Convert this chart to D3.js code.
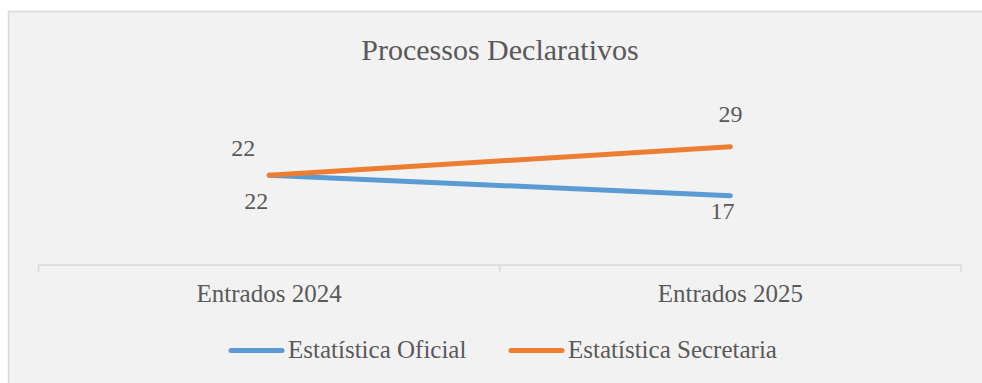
<!DOCTYPE html>
<html>
<head>
<meta charset="utf-8">
<script src="https://cdn.jsdelivr.net/npm/d3@7"></script>
<style>
  html, body { margin: 0; padding: 0; background: #fff; }
  svg text { font-family: "Liberation Serif", "DejaVu Serif", serif; fill: #595959; }
</style>
</head>
<body>
<svg id="chart" width="982" height="383"></svg>
<script>
const categories = ["Entrados 2024", "Entrados 2025"];
const seriesNames = ["Estatística Oficial", "Estatística Secretaria"];
const oficial = [22, 17];
const secretaria = [22, 29];
const title = "Processos Declarativos";

const colors = ["#5b9bd5", "#ed7d31"];
const series = [
    { name: seriesNames[0], values: oficial, color: colors[0] },
    { name: seriesNames[1], values: secretaria, color: colors[1] }
];

const svg = d3.select('#chart');

// chart background + border
svg.append('rect')
    .attr('x', 8.5).attr('y', 11.5)
    .attr('width', 990).attr('height', 400)
    .attr('fill', '#f2f2f2')
    .attr('stroke', '#d9d9d9')
    .attr('stroke-width', 1.5);

svg.append('text')
    .attr('x', 500).attr('y', 60)
    .attr('text-anchor', 'middle')
    .style('font-size', '30px')
    .text(title);

const x = d3.scaleBand().domain(categories).range([38.5, 961]);
const y = d3.scaleLinear().domain([0, 35]).range([265, 122.2]);
const cx = d => x(d) + x.bandwidth() / 2;

// category axis
const axisY = 265;
svg.append('line')
    .attr('x1', 38).attr('x2', 961)
    .attr('y1', axisY).attr('y2', axisY)
    .attr('stroke', '#d9d9d9').attr('stroke-width', 1.5);
[x.range()[0], ...categories.map(c => x(c) + x.bandwidth())].forEach(t => {
    svg.append('line')
        .attr('x1', t).attr('x2', t)
        .attr('y1', axisY).attr('y2', axisY + 7)
        .attr('stroke', '#d9d9d9').attr('stroke-width', 1.5);
});
svg.selectAll('.cat-label')
    .data(categories)
    .join('text')
    .attr('class', 'cat-label')
    .attr('x', d => cx(d))
    .attr('y', 302)
    .attr('text-anchor', 'middle')
    .style('font-size', '25px')
    .text(d => d);

// lines
const line = d3.line()
    .x((d, i) => cx(categories[i]))
    .y(d => y(d));

series.forEach(s => {
    svg.append('path')
        .datum(s.values)
        .attr('d', line)
        .attr('fill', 'none')
        .attr('stroke', s.color)
        .attr('stroke-width', 5)
        .attr('stroke-linecap', 'round');
});

// data labels: oficial below, secretaria above
const labelOffsets = [
    [{ dx: -13, dy: 34 }, { dx: -8, dy: 23 }],
    [{ dx: -26, dy: -19 }, { dx: 0, dy: -25 }]
];
series.forEach((s, si) => {
    svg.selectAll('.lbl' + si)
        .data(s.values)
        .join('text')
        .attr('class', 'lbl' + si)
        .attr('x', (d, i) => cx(categories[i]) + labelOffsets[si][i].dx)
        .attr('y', (d, i) => y(d) + labelOffsets[si][i].dy)
        .attr('text-anchor', 'middle')
        .style('font-size', '24px')
        .text(d => d);
});

// legend
const legendItems = [{ x: 229 }, { x: 509 }];
series.forEach((s, i) => {
    const lx = legendItems[i].x;
    svg.append('line')
        .attr('x1', lx + 2).attr('x2', lx + 53)
        .attr('y1', 350.5).attr('y2', 350.5)
        .attr('stroke', s.color).attr('stroke-width', 5)
        .attr('stroke-linecap', 'round');
    svg.append('text')
        .attr('x', lx + 59).attr('y', 358)
        .style('font-size', '25px')
        .text(s.name);
});
</script>
</body>
</html>
